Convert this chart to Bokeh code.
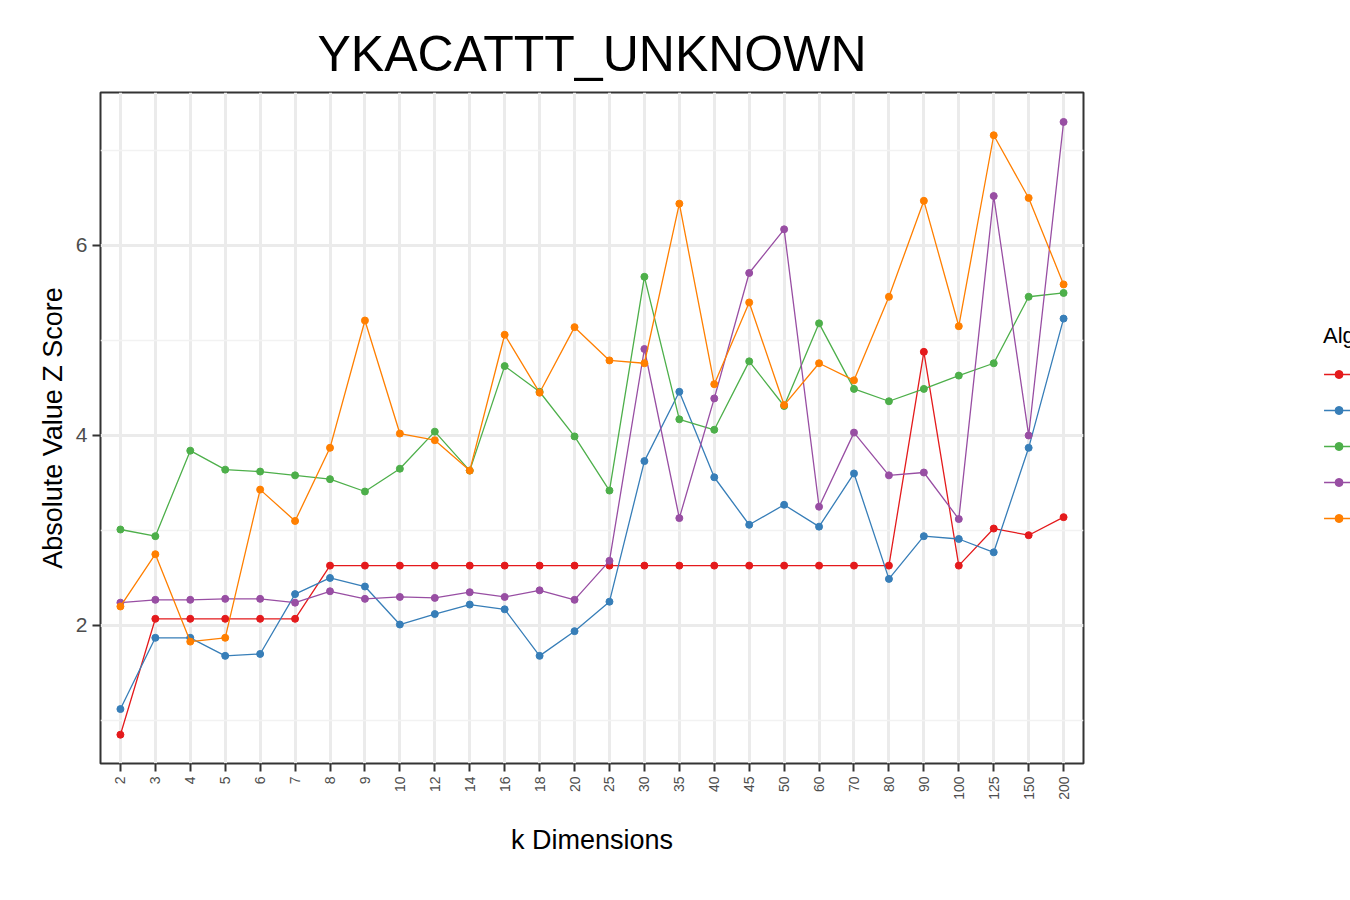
import math
from bokeh.plotting import figure
from bokeh.models import FixedTicker, Legend
from bokeh.embed import file_html
from bokeh.resources import INLINE

k_dims = ['2', '3', '4', '5', '6', '7', '8', '9', '10', '12', '14', '16', '18', '20', '25',
          '30', '35', '40', '45', '50', '60', '70', '80', '90', '100', '125', '150', '200']

pca = [0.85, 2.07, 2.07, 2.07, 2.07, 2.07, 2.63, 2.63, 2.63, 2.63, 2.63, 2.63, 2.63, 2.63,
       2.63, 2.63, 2.63, 2.63, 2.63, 2.63, 2.63, 2.63, 2.63, 4.88, 2.63, 3.02, 2.95, 3.14]
ica = [1.12, 1.87, 1.87, 1.68, 1.70, 2.33, 2.50, 2.41, 2.01, 2.12, 2.22, 2.17, 1.68, 1.94,
       2.25, 3.73, 4.46, 3.56, 3.06, 3.27, 3.04, 3.60, 2.49, 2.94, 2.91, 2.77, 3.87, 5.23]
nmf = [3.01, 2.94, 3.84, 3.64, 3.62, 3.58, 3.54, 3.41, 3.65, 4.04, 3.63, 4.73, 4.46, 3.99,
       3.42, 5.67, 4.17, 4.06, 4.78, 4.31, 5.18, 4.49, 4.36, 4.49, 4.63, 4.76, 5.46, 5.50]
dae = [2.24, 2.27, 2.27, 2.28, 2.28, 2.24, 2.36, 2.28, 2.30, 2.29, 2.35, 2.30, 2.37, 2.27,
       2.68, 4.91, 3.13, 4.39, 5.71, 6.17, 3.25, 4.03, 3.58, 3.61, 3.12, 6.52, 4.00, 7.30]
vae = [2.20, 2.75, 1.83, 1.87, 3.43, 3.10, 3.87, 5.21, 4.02, 3.95, 3.63, 5.06, 4.45, 5.14,
       4.79, 4.76, 6.44, 4.54, 5.40, 4.32, 4.76, 4.58, 5.46, 6.47, 5.15, 7.16, 6.50, 5.59]

series = [('PCA', pca, '#E41A1C'), ('ICA', ica, '#377EB8'), ('NMF', nmf, '#4DAF4A'),
          ('DAE', dae, '#984EA3'), ('VAE', vae, '#FF7F00')]

n = len(k_dims)
xs = list(range(n))

p = figure(output_backend="svg", toolbar_location=None,
           frame_width=983, frame_height=671,
           x_range=(-0.57, n - 1 + 0.57), y_range=(0.547, 7.61),
           min_border_left=100, min_border_top=92, min_border_bottom=110,
           min_border_right=0)

p.title.text = "YKACATTT_UNKNOWN"
p.title.text_font = "Liberation Sans"
p.title.text_font_size = "50px"
p.title.text_font_style = "normal"
p.title.text_color = "black"
p.title.align = "center"
p.title.standoff = 22

items = []
for name, vals, col in series:
    r1 = p.line(xs, vals, line_color=col, line_width=1.3)
    r2 = p.scatter(xs, vals, size=7, fill_color=col, line_color=col)
    items.append((name, [r1, r2]))

legend = Legend(items=items, title="Algorithm", location="center",
                title_text_font_size="22px", label_text_font_size="22px",
                title_text_font="Liberation Sans", label_text_font="Liberation Sans",
                title_text_font_style="normal", title_text_color="black",
                label_text_color="black",
                border_line_color=None, glyph_width=30, spacing=6,
                label_height=30, title_standoff=10, margin=10, padding=10)
p.add_layout(legend, "right")

p.xaxis.ticker = FixedTicker(ticks=xs)
p.xaxis.major_label_overrides = {i: k for i, k in enumerate(k_dims)}
p.xaxis.major_label_orientation = math.pi / 2
p.xaxis.major_label_text_font_size = "14px"
p.xaxis.major_label_text_color = "#4D4D4D"
p.xaxis.minor_tick_line_color = None
p.xaxis.axis_label = "k Dimensions"
p.xaxis.axis_label_standoff = 22

p.yaxis.ticker = FixedTicker(ticks=[2, 4, 6], minor_ticks=[1, 3, 5, 7])
p.yaxis.major_label_text_font_size = "21px"
p.yaxis.major_label_text_color = "#4D4D4D"
p.yaxis.minor_tick_line_color = None
p.yaxis.axis_label = "Absolute Value Z Score"

for ax in (p.xaxis, p.yaxis):
    ax.axis_label_text_font = "Liberation Sans"
    ax.axis_label_text_font_size = "27px"
    ax.axis_label_text_font_style = "normal"
    ax.axis_label_text_color = "black"
    ax.major_label_text_font = "Liberation Sans"
    ax.axis_line_color = None
    ax.major_tick_line_color = "#333333"
    ax.major_tick_line_width = 2
    ax.major_tick_out = 8
    ax.major_tick_in = 0

p.outline_line_color = "#333333"
p.outline_line_width = 2
p.xgrid.grid_line_color = "#EBEBEB"
p.xgrid.grid_line_width = 3
p.ygrid.grid_line_color = "#EBEBEB"
p.ygrid.grid_line_width = 3
p.ygrid.minor_grid_line_color = "#F2F2F2"
p.ygrid.minor_grid_line_width = 1.5

open("out.html", "w").write(file_html(p, INLINE))
